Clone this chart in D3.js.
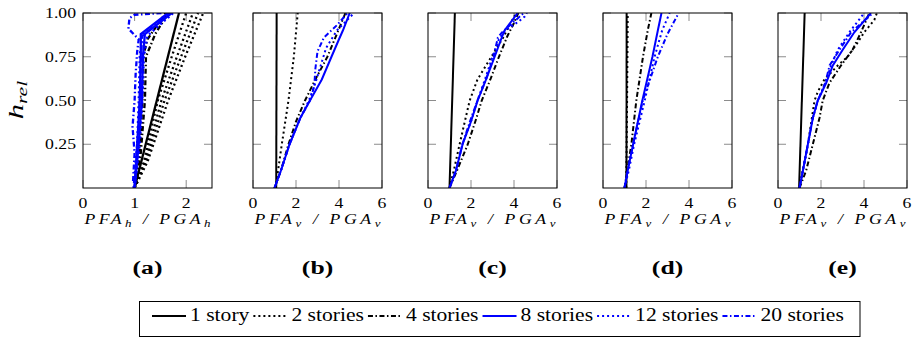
<!DOCTYPE html>
<html>
<head>
<meta charset="utf-8">
<script src="https://cdn.jsdelivr.net/npm/d3@7.9.0/dist/d3.min.js"></script>
<style>
  body { margin: 0; background: #fff; }
  text { font-family: "Liberation Serif", "DejaVu Serif", serif; fill: #000; }
</style>
</head>
<body>
<div id="chart"></div>
<script>
// --- Data ---
const STORIES = ["1 story", "2 stories", "4 stories", "8 stories", "12 stories", "20 stories"];
const PANEL_LABELS = ["(a)", "(b)", "(c)", "(d)", "(e)"];
const H_TICKS = [0.25, 0.5, 0.75, 1.0];
const X_TICKS_H = [0, 1, 2];
const X_TICKS_V = [0, 2, 4, 6];

// every profile is a list of [PFA/PGA, h_rel]; panel (a) holds several records per building
const a1 = [[[1.0, 0], [1.86, 1]]];
const a2 = [
  [[1.0, 0], [1.18, 0.15], [1.45, 0.5], [1.72, 0.75], [2.0, 1]],
  [[1.0, 0], [1.2, 0.15], [1.52, 0.5], [1.82, 0.75], [2.13, 1]],
  [[1.0, 0], [1.22, 0.15], [1.58, 0.5], [1.9, 0.75], [2.23, 1]],
  [[1.0, 0], [1.25, 0.15], [1.65, 0.5], [1.98, 0.75], [2.33, 1]]
];
const a4 = [
  [[1.0, 0], [1.1, 0.2], [1.15, 0.5], [1.16, 0.75], [1.25, 0.85], [1.6, 1]],
  [[1.0, 0], [1.12, 0.2], [1.2, 0.5], [1.22, 0.75], [1.4, 0.88], [1.65, 1]]
];
const a8 = [
  [[1.0, 0], [1.05, 0.25], [1.1, 0.5], [1.12, 0.75], [1.12, 0.88], [1.65, 1]],
  [[1.0, 0], [1.08, 0.25], [1.14, 0.5], [1.16, 0.75], [1.2, 0.88], [1.72, 1]]
];
const a12 = [
  [[0.98, 0], [1.05, 0.25], [1.08, 0.5], [1.1, 0.75], [1.15, 0.88], [1.68, 1]],
  [[1.0, 0], [1.1, 0.25], [1.15, 0.5], [1.18, 0.75], [1.25, 0.87], [1.75, 1]]
];
const a20 = [
  [[0.97, 0.04], [1.0, 0.2], [0.96, 0.35], [1.0, 0.5], [1.02, 0.65], [1.05, 0.78], [1.08, 0.85],
   [0.88, 0.91], [0.9, 0.97], [1.0, 0.99], [1.55, 1.0]],
  [[1.0, 0], [1.06, 0.25], [1.1, 0.5], [1.12, 0.75], [1.15, 0.87], [1.7, 1]]
];

const b1 = [[1.08, 0], [1.1, 1]];
const b2 = [[1.05, 0], [1.34, 0.25], [1.65, 0.5], [1.9, 0.75], [2.08, 1]];
const b4 = [[1.0, 0], [1.3, 0.1], [1.65, 0.25], [2.0, 0.38], [2.42, 0.5], [2.9, 0.62], [3.46, 0.75], [3.9, 0.88], [4.3, 1]];
const b8 = [[1.0, 0], [1.3, 0.1], [1.7, 0.25], [2.2, 0.4], [2.65, 0.5], [3.2, 0.62], [3.65, 0.75], [4.0, 0.85], [4.18, 0.9], [4.5, 1]];
const b12 = [[1.0, 0], [1.3, 0.1], [1.7, 0.25], [2.2, 0.4], [2.6, 0.5], [2.9, 0.6], [3.15, 0.7], [3.4, 0.8], [3.9, 0.9], [4.7, 1]];
const b20 = [[1.0, 0], [1.3, 0.1], [1.7, 0.25], [2.2, 0.4], [2.65, 0.5], [2.85, 0.58], [2.9, 0.68], [3.0, 0.78], [3.3, 0.86], [3.9, 0.93], [4.4, 1]];

const c1 = [[1.0, 0], [1.25, 1]];
const c2 = [[1.0, 0], [1.2, 0.1], [1.47, 0.25], [1.75, 0.4], [1.94, 0.5], [2.3, 0.62], [2.95, 0.75], [3.5, 0.86], [3.75, 0.92], [4.1, 1]];
const c4 = [[1.0, 0], [1.35, 0.1], [1.85, 0.25], [2.2, 0.38], [2.5, 0.5], [2.9, 0.62], [3.3, 0.75], [3.7, 0.87], [3.95, 0.93], [4.2, 1]];
const c8 = [[1.0, 0], [1.3, 0.1], [1.61, 0.25], [2.0, 0.38], [2.31, 0.5], [2.7, 0.62], [3.1, 0.75], [3.4, 0.85], [3.56, 0.9], [4.17, 1]];
const c12 = [[1.0, 0], [1.3, 0.1], [1.6, 0.25], [2.0, 0.38], [2.3, 0.5], [2.65, 0.62], [3.0, 0.75], [3.3, 0.85], [3.6, 0.9], [4.2, 0.95], [4.5, 0.98], [4.6, 1]];
const c20 = [[1.0, 0], [1.3, 0.1], [1.6, 0.25], [1.95, 0.38], [2.3, 0.5], [2.7, 0.62], [3.05, 0.75], [3.25, 0.86], [3.45, 0.89], [4.0, 0.95], [4.45, 1]];

const d1 = [[1.09, 0], [1.1, 1]];
const d2 = [[1.08, 0], [1.12, 0.5], [1.15, 1]];
const d4 = [[1.0, 0], [1.32, 0.25], [1.55, 0.5], [1.86, 0.75], [2.08, 0.9], [2.25, 1]];
const d8 = [[1.0, 0], [1.15, 0.1], [1.4, 0.25], [1.83, 0.5], [2.3, 0.75], [2.55, 0.9], [2.72, 1]];
const d12 = [[1.0, 0], [1.2, 0.1], [1.45, 0.25], [1.94, 0.5], [2.4, 0.75], [2.75, 0.9], [3.1, 1]];
const d20 = [[1.0, 0], [1.15, 0.1], [1.4, 0.25], [1.85, 0.5], [2.55, 0.75], [3.0, 0.88], [3.52, 1]];

const e1 = [[0.98, 0], [1.24, 1]];
const e2 = [[1.0, 0], [1.15, 0.1], [1.39, 0.25], [1.7, 0.5], [1.85, 0.55], [2.16, 0.62], [2.78, 0.7], [3.24, 0.75], [3.7, 0.83], [4.01, 0.89], [4.48, 0.96], [4.6, 1]];
const e4 = [[1.0, 0], [1.31, 0.1], [1.62, 0.25], [1.93, 0.4], [2.08, 0.5], [2.39, 0.6], [2.93, 0.7], [3.47, 0.79], [3.86, 0.89], [4.25, 1]];
const e8 = [[1.0, 0], [1.16, 0.1], [1.39, 0.25], [1.62, 0.4], [1.85, 0.5], [2.24, 0.6], [2.55, 0.7], [3.01, 0.79], [3.55, 0.89], [4.32, 1]];
const e12 = [[1.0, 0], [1.16, 0.1], [1.39, 0.25], [1.62, 0.4], [1.85, 0.5], [2.2, 0.6], [2.47, 0.7], [2.78, 0.79], [3.32, 0.89], [4.01, 1]];
const e20 = [[1.0, 0], [1.16, 0.1], [1.39, 0.25], [1.62, 0.4], [1.85, 0.5], [2.2, 0.6], [2.4, 0.7], [2.86, 0.79], [3.4, 0.89], [4.42, 1]];

// --- Layout and styles ---
const W = 916;
const H = 338;
const PANEL_X = [83, 253, 428, 603, 778]; // left edge of each axis box
const PANEL_W = 129;
const TOP = 13;
const BOTTOM = 188;
const TICK = 8;
const SX = 1.18; // the source figure is a bit wider than tall, text included

const STYLES = [
  { color: "#000", dash: null },
  { color: "#000", dash: "2 3" },
  { color: "#000", dash: "5 2.5 1.5 2.5" },
  { color: "#0000ff", dash: null },
  { color: "#0000ff", dash: "2 3" },
  { color: "#0000ff", dash: "5 2.5 1.5 2.5" }
];

const panels = [
  { comp: "h", xMax: 2.5, ticks: X_TICKS_H, series: [a1, a2, a4, a8, a12, a20] },
  { comp: "v", xMax: 6, ticks: X_TICKS_V, series: [[b1], [b2], [b4], [b8], [b12], [b20]] },
  { comp: "v", xMax: 6, ticks: X_TICKS_V, series: [[c1], [c2], [c4], [c8], [c12], [c20]] },
  { comp: "v", xMax: 6, ticks: X_TICKS_V, series: [[d1], [d2], [d4], [d8], [d12], [d20]] },
  { comp: "v", xMax: 6, ticks: X_TICKS_V, series: [[e1], [e2], [e4], [e8], [e12], [e20]] }
];

const svg = d3.select("#chart").append("svg").attr("width", W).attr("height", H);
svg.append("rect").attr("width", W).attr("height", H).attr("fill", "#fff");

const y = d3.scaleLinear().domain([0, 1]).range([BOTTOM, TOP]);

// place a text at (x, y), widened horizontally
function at(x, yy, sx = SX) {
  return `translate(${x},${yy}) scale(${sx},1)`;
}

function drawPanel(p, i) {
  const x0 = PANEL_X[i];
  const x = d3.scaleLinear().domain([0, p.xMax]).range([x0, x0 + PANEL_W]);
  const g = svg.append("g");

  g.append("clipPath").attr("id", "clip" + i)
    .append("rect").attr("x", x0).attr("y", TOP).attr("width", PANEL_W).attr("height", BOTTOM - TOP);

  // inward ticks on all four sides
  const ticks = g.append("g").attr("stroke", "#8c8c8c").attr("stroke-width", 1);
  ticks.selectAll(".yl").data(H_TICKS).join("line")
    .attr("x1", x0).attr("x2", x0 + TICK).attr("y1", (d) => y(d)).attr("y2", (d) => y(d));
  ticks.selectAll(".yr").data(H_TICKS).join("line")
    .attr("x1", x0 + PANEL_W - TICK).attr("x2", x0 + PANEL_W).attr("y1", (d) => y(d)).attr("y2", (d) => y(d));
  ticks.selectAll(".xb").data(p.ticks).join("line")
    .attr("x1", (d) => x(d)).attr("x2", (d) => x(d)).attr("y1", BOTTOM).attr("y2", BOTTOM - TICK);
  ticks.selectAll(".xt").data(p.ticks).join("line")
    .attr("x1", (d) => x(d)).attr("x2", (d) => x(d)).attr("y1", TOP).attr("y2", TOP + TICK);

  const line = d3.line().x((d) => x(d[0])).y((d) => y(d[1]));
  const plot = g.append("g").attr("clip-path", `url(#clip${i})`).attr("fill", "none");
  p.series.forEach((records, s) => {
    plot.selectAll(null).data(records).join("path")
      .attr("d", line)
      .attr("stroke", STYLES[s].color)
      .attr("stroke-width", i === 0 ? 2.3 : 2)
      .attr("stroke-dasharray", STYLES[s].dash);
  });

  g.append("rect").attr("x", x0).attr("y", TOP).attr("width", PANEL_W).attr("height", BOTTOM - TOP)
    .attr("fill", "none").attr("stroke", "#000").attr("stroke-width", 1);

  // tick labels
  g.selectAll(".xl").data(p.ticks).join("text")
    .attr("transform", (d) => at(x(d), 208)).attr("text-anchor", "middle")
    .attr("font-size", 15).text((d) => d);
  if (i === 0) {
    g.selectAll(".ylab").data(H_TICKS).join("text")
      .attr("transform", (d) => at(76, y(d) + 5)).attr("text-anchor", "end")
      .attr("font-size", 15).text((d) => d.toFixed(2));
  }

  // axis title PFA_c / PGA_c
  const cx = x0 + PANEL_W / 2;
  const t = g.append("text").attr("transform", at(cx, 224)).attr("text-anchor", "middle")
    .attr("font-size", 15).attr("font-style", "italic")
    .attr("textLength", 126 / SX).attr("lengthAdjust", "spacing");
  t.append("tspan").text("PFA");
  t.append("tspan").attr("dy", 3).attr("font-size", 11).text(p.comp);
  t.append("tspan").attr("dy", -3).text(" / PGA");
  t.append("tspan").attr("dy", 3).attr("font-size", 11).text(p.comp);

  g.append("text").attr("transform", at(cx, 274, 1.35)).attr("text-anchor", "middle")
    .attr("font-size", 19).attr("font-weight", "bold").text(PANEL_LABELS[i]);
}

panels.forEach(drawPanel);

// y axis label h_rel
const yl = svg.append("text").attr("transform", "translate(23,100) rotate(-90) scale(1.45,1)")
  .attr("text-anchor", "middle").attr("font-size", 21).attr("font-style", "italic");
yl.append("tspan").text("h");
yl.append("tspan").attr("dy", 4).attr("font-size", 15).text("rel");

// --- Legend ---
const LEG_SX = 1.2;
const legend = svg.append("g");
legend.append("rect").attr("x", 139.5).attr("y", 301.5).attr("width", 720.5).attr("height", 35)
  .attr("fill", "#fff").attr("stroke", "#000").attr("stroke-width", 1);
let lx = 152;
STORIES.forEach((name, s) => {
  legend.append("line").attr("x1", lx).attr("x2", lx + 34).attr("y1", 316).attr("y2", 316)
    .attr("stroke", STYLES[s].color).attr("stroke-width", 2).attr("stroke-dasharray", STYLES[s].dash);
  const txt = legend.append("text").attr("transform", at(lx + 38, 321, LEG_SX)).attr("font-size", 18).text(name);
  lx += 38 + txt.node().getComputedTextLength() * LEG_SX + 4;
});
</script>
</body>
</html>
